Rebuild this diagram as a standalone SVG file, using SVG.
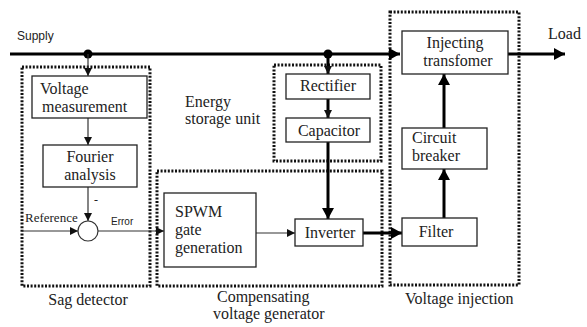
<svg xmlns="http://www.w3.org/2000/svg" width="587" height="327" viewBox="0 0 587 327">
<style>
.box{fill:#fff;stroke:#222;stroke-width:1.3}
.grp{fill:none;stroke:#111;stroke-width:3;stroke-dasharray:2 1.6}
.thin{fill:none;stroke:#333;stroke-width:1.2}
.thick{fill:none;stroke:#000;stroke-width:3}
</style>
<defs>
<marker id="ah" markerUnits="userSpaceOnUse" markerWidth="10" markerHeight="10" refX="8" refY="4" orient="auto"><path d="M0,0 L8,4 L0,8 z" fill="#111"/></marker>
<marker id="ahb" markerUnits="userSpaceOnUse" markerWidth="14" markerHeight="14" refX="11" refY="6" orient="auto"><path d="M0,0 L11,6 L0,12 z" fill="#000"/></marker>
</defs>
<rect width="587" height="327" fill="#fff"/>

<g id="groups">
<rect class="grp" x="22" y="67" width="128" height="219"/>
<rect class="grp" x="157" y="171" width="225" height="115"/>
<rect class="grp" x="274" y="65" width="107" height="96"/>
<rect class="grp" x="390" y="12" width="129" height="273"/>
</g>

<g id="connectors">
<line class="thick" x1="10" y1="54" x2="400" y2="54" marker-end="url(#ahb)"/>
<line class="thick" x1="508" y1="54" x2="565" y2="54" marker-end="url(#ahb)"/>
<circle cx="88" cy="54" r="4.5" fill="#000"/>
<circle cx="328" cy="54" r="4.5" fill="#000"/>
<line class="thin" x1="88" y1="54" x2="88" y2="76" stroke-width="1.6" marker-end="url(#ah)"/>
<line class="thin" x1="88" y1="118" x2="88" y2="145" marker-end="url(#ah)"/>
<line class="thin" x1="88" y1="187" x2="88" y2="221" marker-end="url(#ah)"/>
<line class="thin" x1="22" y1="231" x2="78" y2="231" marker-end="url(#ah)"/>
<line class="thin" x1="98" y1="231" x2="164" y2="231" marker-end="url(#ah)"/>
<line class="thin" x1="256" y1="233" x2="295" y2="233" marker-end="url(#ah)"/>
<line class="thick" x1="328" y1="54" x2="328" y2="74" stroke-width="2" marker-end="url(#ah)"/>
<line class="thick" x1="328" y1="99" x2="328" y2="118" stroke-width="2.5" marker-end="url(#ah)"/>
<line class="thick" x1="328" y1="142" x2="328" y2="219" marker-end="url(#ahb)"/>
<line class="thick" x1="363" y1="233" x2="402" y2="233" marker-end="url(#ahb)"/>
<line class="thick" x1="444" y1="218" x2="444" y2="169" marker-end="url(#ahb)"/>
<line class="thick" x1="444" y1="128" x2="444" y2="74" marker-end="url(#ahb)"/>
<circle cx="88" cy="231" r="10" fill="#fff" stroke="#333" stroke-width="1.2"/>
</g>

<g id="vm"><rect class="box" x="32" y="76" width="115" height="42"/>
<text x="40" y="94" font-family="Liberation Serif, serif" font-size="16" fill="#222">Voltage</text><text x="42" y="112" font-family="Liberation Serif, serif" font-size="16" fill="#222">measurement</text></g>
<g id="fourier"><rect class="box" x="43" y="145" width="94" height="42"/>
<text x="90" y="162" text-anchor="middle" font-family="Liberation Serif, serif" font-size="16" fill="#222">Fourier</text><text x="90" y="180" text-anchor="middle" font-family="Liberation Serif, serif" font-size="16" fill="#222">analysis</text></g>
<g id="sum">
<text x="94" y="204" font-family="Liberation Serif, serif" font-size="12" fill="#222">-</text>
<text x="25" y="222" font-family="Liberation Serif, serif" font-size="13" fill="#222">Reference</text>
<text x="111" y="225" font-family="Liberation Sans, sans-serif" font-size="10" fill="#222">Error</text>
</g>
<g id="spwm"><rect class="box" x="164" y="193" width="92" height="74"/>
<text x="175" y="217" font-family="Liberation Serif, serif" font-size="16" fill="#222">SPWM</text><text x="175" y="235" font-family="Liberation Serif, serif" font-size="16" fill="#222">gate</text><text x="175" y="253" font-family="Liberation Serif, serif" font-size="16" fill="#222">generation</text></g>
<g id="inverter"><rect class="box" x="295" y="219" width="68" height="27"/>
<text x="330" y="238" text-anchor="middle" font-family="Liberation Serif, serif" font-size="16" fill="#222">Inverter</text></g>
<g id="rectifier"><rect class="box" x="286" y="74" width="84" height="25"/>
<text x="328" y="91" text-anchor="middle" font-family="Liberation Serif, serif" font-size="16" fill="#222">Rectifier</text></g>
<g id="capacitor"><rect class="box" x="286" y="118" width="84" height="24"/>
<text x="329" y="136" text-anchor="middle" font-family="Liberation Serif, serif" font-size="16" fill="#222">Capacitor</text></g>
<g id="transformer"><rect class="box" x="402" y="31" width="106" height="43"/>
<text x="455" y="48" text-anchor="middle" font-family="Liberation Serif, serif" font-size="16" fill="#222">Injecting</text><text x="458" y="66" text-anchor="middle" font-family="Liberation Serif, serif" font-size="16" fill="#222">transfomer</text></g>
<g id="breaker"><rect class="box" x="402" y="128" width="85" height="41"/>
<text x="412" y="143" font-family="Liberation Serif, serif" font-size="16" fill="#222">Circuit</text><text x="412" y="161" font-family="Liberation Serif, serif" font-size="16" fill="#222">breaker</text></g>
<g id="filter"><rect class="box" x="402" y="218" width="75" height="28"/>
<text x="436" y="237" text-anchor="middle" font-family="Liberation Serif, serif" font-size="16" fill="#222">Filter</text></g>

<g id="labels">
<text x="17" y="40" font-family="Liberation Sans, sans-serif" font-size="12" fill="#222">Supply</text>
<text x="548" y="39" font-family="Liberation Serif, serif" font-size="16" fill="#222">Load</text>
<text x="185" y="107" font-family="Liberation Serif, serif" font-size="16" fill="#222">Energy</text>
<text x="185" y="124" font-family="Liberation Serif, serif" font-size="16" fill="#222">storage unit</text>
<text x="88" y="305" text-anchor="middle" font-family="Liberation Serif, serif" font-size="16" fill="#222">Sag detector</text>
<text x="217" y="302" font-family="Liberation Serif, serif" font-size="16" fill="#222">Compensating</text>
<text x="213" y="319" font-family="Liberation Serif, serif" font-size="16" fill="#222">voltage generator</text>
<text x="405" y="304" font-family="Liberation Serif, serif" font-size="16" fill="#222">Voltage injection</text>
</g>
</svg>
